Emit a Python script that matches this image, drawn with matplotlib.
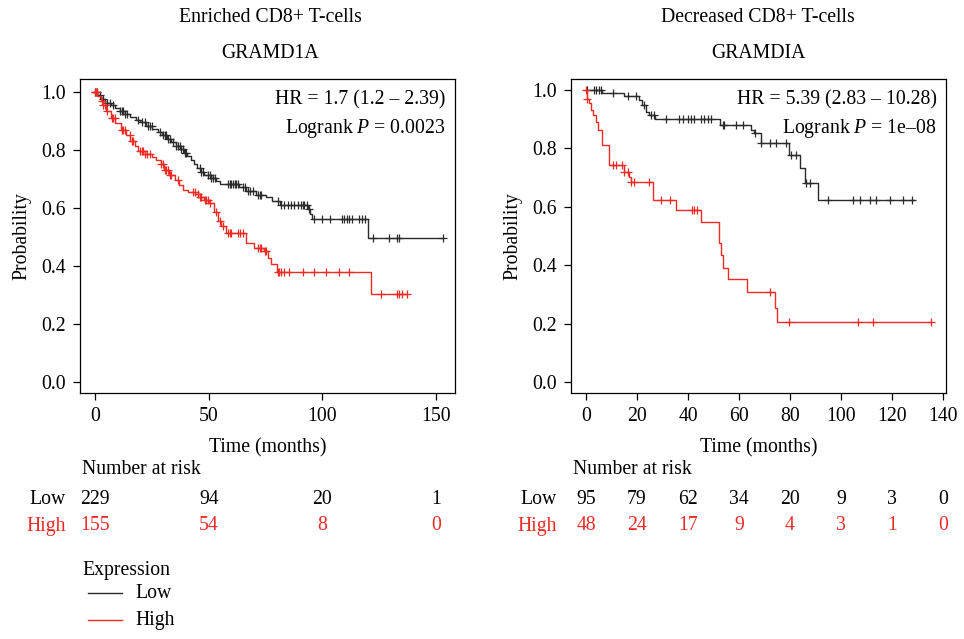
import matplotlib
matplotlib.use("Agg")
import matplotlib.pyplot as plt
import matplotlib.transforms as mtransforms
import numpy as np

plt.rcParams['font.family'] = ['Liberation Serif', 'DejaVu Serif']
plt.rcParams['mathtext.fontset'] = 'custom'
plt.rcParams['mathtext.it'] = 'Liberation Serif:italic'
plt.rcParams['mathtext.rm'] = 'Liberation Serif'

LOW_C = '#2b2b2b'
HIGH_C = '#ec2b24'
FS = 14.2

# ---- left panel: Enriched CD8+ T-cells ----
l_low_t = [0, 1.0, 2.5, 4.5, 7, 9, 11, 13, 15.5, 18, 20, 22.5, 25, 27.5, 29.5, 31.5, 33.5,
           35.5, 37.5, 39, 40.5, 42, 43.5, 45, 46.5, 48, 51, 53, 55, 63.5, 66.5, 71, 75,
           78, 81.5, 93.5, 94.5, 95.5, 120]
l_low_s = [1.0, 0.99, 0.975, 0.962, 0.954, 0.945, 0.935, 0.925, 0.915, 0.905, 0.895, 0.882,
           0.872, 0.862, 0.85, 0.838, 0.826, 0.815, 0.803, 0.79, 0.778, 0.765, 0.752, 0.738,
           0.725, 0.715, 0.703, 0.692, 0.682, 0.672, 0.658, 0.646, 0.638, 0.623, 0.61, 0.595,
           0.578, 0.562, 0.495]
l_low_end = 153.1
l_low_cens = [0, 0.7, 2.2, 3.7, 5.1, 6.6, 8.0, 11.0, 11.7, 12.4, 13.2, 13.9, 19.0, 20.5, 22.0,
              23.4, 24.1, 24.9, 28.5, 30.0, 30.7, 31.4, 32.2, 32.9, 34.4, 35.8, 36.5, 37.3,
              38.0, 38.7, 39.5, 40.2, 46.1, 46.8, 47.5, 49.7, 50.4, 51.2, 51.9, 52.6, 58.5,
              59.2, 59.9, 60.7, 61.4, 62.1, 62.9, 65.1, 65.8, 67.3, 68.0, 69.5, 71.6, 72.4,
              73.1, 80.4, 81.9, 83.3, 84.8, 86.2, 87.7, 89.2, 90.6, 91.4, 92.1, 93.0, 94.0,
              96.5, 99.9, 103.4, 108.6, 109.6, 110.7, 111.8, 113.0, 116.2, 117.4, 118.6,
              122.4, 129.1, 132.6, 133.8, 153.1]

l_high_t = [0, 1, 2.5, 3.5, 5, 7, 9, 11.5, 13.5, 15.5, 17.5, 19, 22, 25, 27, 29, 30.5, 32.5,
            35, 37, 38.5, 41, 44, 46, 48, 50, 52.5, 54, 55.5, 57.5, 66.5, 70, 74.5, 76, 77.5,
            80, 121.3]
l_high_s = [1.0, 0.985, 0.97, 0.955, 0.933, 0.91, 0.892, 0.87, 0.852, 0.83, 0.812, 0.795,
            0.787, 0.776, 0.765, 0.753, 0.732, 0.713, 0.696, 0.679, 0.662, 0.655, 0.648,
            0.638, 0.628, 0.617, 0.585, 0.555, 0.537, 0.515, 0.48, 0.463, 0.45, 0.428, 0.405,
            0.38, 0.302]
l_high_end = 137.4
l_high_cens = [0, 0.3, 0.7, 2.9, 3.7, 4.4, 5.1, 7.3, 8.0, 8.8, 11.7, 12.4, 13.2, 15.4, 16.1,
               16.8, 19.7, 20.5, 21.2, 22.0, 22.7, 24.1, 29.2, 30.0, 30.7, 31.4, 32.2, 32.9,
               33.6, 36.5, 43.1, 43.9, 45.3, 46.1, 46.8, 48.2, 49.0, 49.7, 50.4, 53.4, 54.8,
               56.3, 58.5, 59.2, 59.9, 62.9, 63.6, 65.1, 71.6, 72.4, 73.1, 74.6, 75.3, 80.4,
               81.1, 81.9, 83.3, 85.5, 91.4, 96.5, 101.6, 107.5, 111.8, 125.7, 133.0, 133.8,
               135.2, 137.4]

# ---- right panel: Decreased CD8+ T-cells ----
r_low_t = [0, 6.3, 15, 20.8, 22, 23.5, 24.8, 27, 52.7, 64.8, 66, 68.7, 79.8, 83.8, 85.7, 91]
r_low_s = [1.0, 0.989, 0.98, 0.966, 0.95, 0.926, 0.914, 0.9, 0.88, 0.863, 0.852, 0.82,
           0.777, 0.732, 0.68, 0.623]
r_low_end = 128.5
r_low_cens = [0.5, 3.1, 3.8, 5.1, 5.8, 10.4, 16.3, 19.5, 22.8, 25.4, 26.7, 31.3, 36.6, 37.9,
              39.8, 41.2, 42.5, 45.1, 46.4, 47.7, 49.0, 53.6, 54.3, 58.8, 61.5, 66.1, 68.7,
              72.0, 74.6, 78.5, 80.5, 82.5, 86.4, 87.7, 95.0, 104.7, 107.3, 111.3, 113.9,
              119.1, 124.4, 127.7]

r_high_t = [0, 0.2, 0.5, 1.2, 1.8, 2.7, 3.8, 4.5, 6.4, 9.0, 14.9, 16.9, 17.6, 26.1, 35.3,
            45.1, 52.0, 52.9, 53.9, 55.7, 63.1, 74.3, 74.8]
r_high_s = [1.0, 0.989, 0.971, 0.955, 0.932, 0.914, 0.892, 0.863, 0.812, 0.743, 0.72, 0.703,
            0.686, 0.623, 0.589, 0.549, 0.475, 0.435, 0.392, 0.352, 0.309, 0.252, 0.204]
r_high_end = 135.5
r_high_cens = [0.0, 0.5, 10.7, 11.7, 14.3, 14.9, 16.3, 17.6, 18.9, 24.8, 29.6, 32.9, 41.4,
               42.5, 43.5, 72.0, 79.8, 106.7, 112.6, 135.5]

l_risk_x = [0, 50, 100, 150]
l_risk_low = [229, 94, 20, 1]
l_risk_high = [155, 54, 8, 0]
r_risk_x = [0, 20, 40, 60, 80, 100, 120, 140]
r_risk_low = [95, 79, 62, 34, 20, 9, 3, 0]
r_risk_high = [48, 24, 17, 9, 4, 3, 1, 0]

W, H = 964, 639
fig = plt.figure(figsize=(W / 100, H / 100), dpi=100)


def px(x, y):
    return x / W, 1 - y / H


def draw_km(ax, t, s, end, cens, color):
    tt = list(t) + [end]
    ss = list(s) + [s[-1]]
    ax.step(tt, ss, where='post', color=color, lw=1.0)
    idx = np.searchsorted(np.array(t), np.array(cens), side='right') - 1
    cy = np.array(s)[np.clip(idx, 0, None)]
    ax.plot(cens, cy, ls='none', marker='+', color=color, ms=6, mew=0.9)


def panel(left, title1, title2, curves, xlim, ylim, xticks, risk_x, risk_low, risk_high,
          hr, pval, cx):
    ax = fig.add_axes([left / W, 1 - 393 / H, 375 / W, 314 / H])
    for t, s, end, cens, c in curves:
        draw_km(ax, t, s, end, cens, c)
    ax.set_xlim(*xlim)
    ax.set_ylim(*ylim)
    ax.set_xticks(xticks)
    ax.set_yticks([0, 0.2, 0.4, 0.6, 0.8, 1.0])
    ax.set_yticklabels(['0.0', '0.2', '0.4', '0.6', '0.8', '1.0'])
    ax.tick_params(labelsize=FS, length=5, width=0.9, pad=5)
    for sp in ax.spines.values():
        sp.set_linewidth(0.9)
    ax.set_xlabel('Time (months)', fontsize=FS, labelpad=9)
    ax.set_ylabel('Probability', fontsize=FS, labelpad=7)
    ax.text(0.975, 0.965, hr, transform=ax.transAxes, ha='right', va='top', fontsize=FS)
    ax.text(0.975, 0.88, 'Logrank $P$ = ' + pval, transform=ax.transAxes, ha='right',
            va='top', fontsize=FS)
    fig.text(*px(cx, 17), title1, ha='center', va='center', fontsize=FS)
    fig.text(*px(cx, 53), title2, ha='center', va='center', fontsize=FS)
    fig.text(*px(left + 2, 470), 'Number at risk', ha='left', va='center', fontsize=FS)
    fig.text(*px(left - 14, 499), 'Low', ha='right', va='center', fontsize=FS, color='black')
    fig.text(*px(left - 14, 526), 'High', ha='right', va='center', fontsize=FS, color=HIGH_C)
    tr = mtransforms.blended_transform_factory(ax.transData, fig.transFigure)
    for x, a, b in zip(risk_x, risk_low, risk_high):
        ax.text(x, 1 - 499 / H, str(a), transform=tr, ha='center', va='center',
                fontsize=FS, color='black')
        ax.text(x, 1 - 526 / H, str(b), transform=tr, ha='center', va='center',
                fontsize=FS, color=HIGH_C)
    return ax


panel(80, 'Enriched CD8+ T-cells', 'GRAMD1A',
      [(l_low_t, l_low_s, l_low_end, l_low_cens, LOW_C),
       (l_high_t, l_high_s, l_high_end, l_high_cens, HIGH_C)],
      (-6.6, 158.3), (-0.039, 1.045), [0, 50, 100, 150],
      l_risk_x, l_risk_low, l_risk_high, 'HR = 1.7 (1.2 – 2.39)', '0.0023', 270)

panel(571, 'Decreased CD8+ T-cells', 'GRAMDIA',
      [(r_low_t, r_low_s, r_low_end, r_low_cens, LOW_C),
       (r_high_t, r_high_s, r_high_end, r_high_cens, HIGH_C)],
      (-5.9, 141.2), (-0.038, 1.038), [0, 20, 40, 60, 80, 100, 120, 140],
      r_risk_x, r_risk_low, r_risk_high, 'HR = 5.39 (2.83 – 10.28)', '1e–08', 758)

# legend
fig.text(*px(82, 570), 'Expression', ha='left', va='center', fontsize=FS)
for yy, lab, c in [(593, 'Low', LOW_C), (620, 'High', HIGH_C)]:
    fig.add_artist(plt.Line2D([88 / W, 122 / W], [1 - yy / H, 1 - yy / H], color=c, lw=1.0))
    fig.text(*px(135, yy), lab, ha='left', va='center', fontsize=FS)

fig.savefig('out.png', dpi=100)
